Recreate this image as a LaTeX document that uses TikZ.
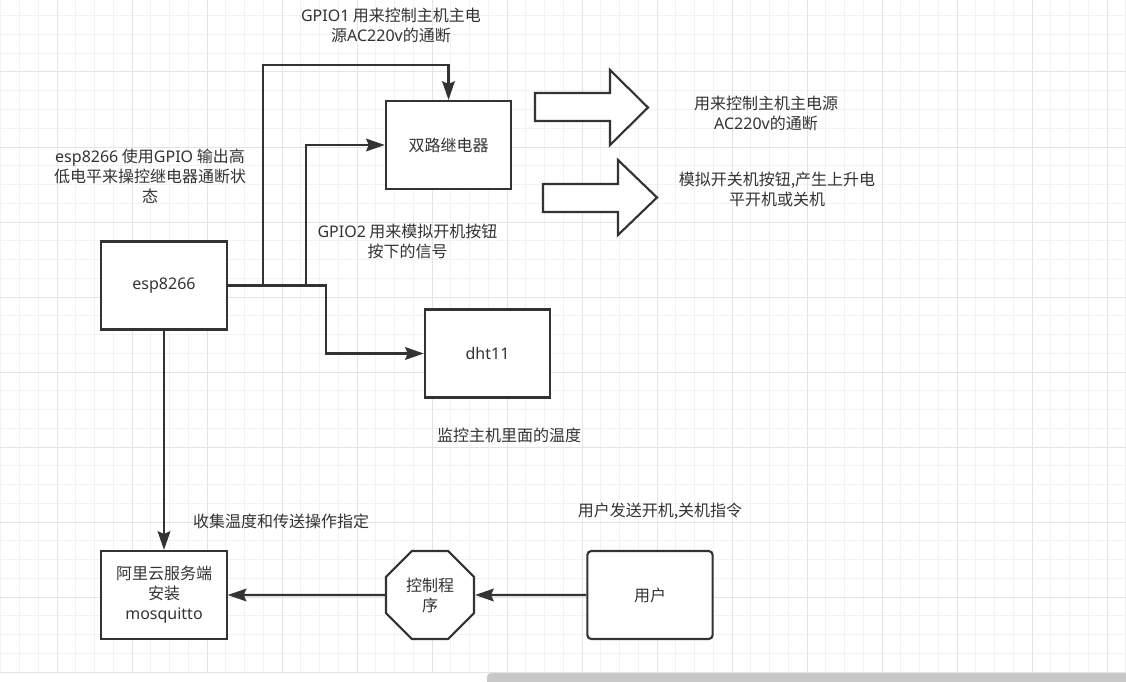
\documentclass[tikz,border=0pt]{standalone}
\usepackage{fontspec}
\setmainfont{Noto Sans CJK SC}
\newfontfamily\lat{Noto Sans}
\usetikzlibrary{arrows.meta,shapes.geometric,positioning}
\usepackage{xcolor}
\definecolor{linec}{HTML}{333333}
\definecolor{txtc}{HTML}{333333}
\definecolor{gridminor}{HTML}{F2F2F2}
\definecolor{gridmajor}{HTML}{E4E4E4}
\definecolor{scrollc}{HTML}{C8C8C8}

\begin{document}
\begin{tikzpicture}[
  x=0.75pt, y=-0.75pt,
  box/.style={rectangle, draw=linec, line width=1.6pt, fill=white, minimum width=94pt, minimum height=66pt, align=center, text=txtc, font=\fontsize{12}{15}\selectfont},
  octa/.style={regular polygon, regular polygon sides=8, draw=linec, line width=1.6pt, fill=white, minimum size=71.4pt, inner sep=0pt, align=center, text=txtc, font=\fontsize{12}{15}\selectfont},
  note/.style={align=center, text=txtc, inner sep=0pt, font=\fontsize{12}{15}\selectfont},
  wire/.style={draw=linec, line width=1.6pt},
  bigarrow/.style={draw=linec, line width=1.6pt, fill=white},
  >={Stealth[length=14pt,width=9.5pt,inset=2pt]}
]
\useasboundingbox[fill=white] (0,0) rectangle (1126,681);

% grid
\foreach \k in {0,...,60} \draw[gridminor, line width=0.75pt] (0.75+18.75*\k,0) -- (0.75+18.75*\k,673);
\foreach \k in {0,...,35} \draw[gridminor, line width=0.75pt] (0,15.75+18.75*\k) -- (1126,15.75+18.75*\k);
\foreach \k in {0,...,14} \draw[gridmajor, line width=0.75pt] (57+75*\k,0) -- (57+75*\k,673);
\foreach \k in {0,...,8} \draw[gridmajor, line width=0.75pt] (0,72+75*\k) -- (1126,72+75*\k);

\node[box] (relay) at (448.5,145) {双路继电器};
\node[box] (esp) at (164,285.5) {\lat esp8266};
\node[box] (dht) at (487.5,353.5) {\lat dht11};
\node[box] (srv) at (164,595) {阿里云服务端\\安装\\{\lat mosquitto}};
\node[octa] (ctrl) at (430,595) {控制程\\序};
\node[box, rounded corners=3pt] (user) at (650,595) {用户};

% hollow arrows on the right
\draw[bigarrow] (535,93) -- (610,93) -- (610,70) -- (648,107.5) -- (610,145) -- (610,121) -- (535,121) -- cycle;
\draw[bigarrow] (543,184) -- (618,184) -- (618,160) -- (657,197.5) -- (618,235) -- (618,212) -- (543,212) -- cycle;

\node[note] (gpio1) at (391,25) {{\lat GPIO1} 用来控制主机主电\\源{\lat AC220v}的通断};
\node[note] (espnote) at (150,176) {{\lat esp8266} 使用{\lat GPIO} 输出高\\低电平来操控继电器通断状\\态};
\node[note] (gpio2) at (407.5,241) {{\lat GPIO2} 用来模拟开机按钮\\按下的信号};
\node[note] (power) at (766,113) {用来控制主机主电源\\{\lat AC220v}的通断};
\node[note] (button) at (777,189) {模拟开关机按钮,产生上升电\\平开机或关机};
\node[note] (temp) at (509,435) {监控主机里面的温度};
\node[note] (collect) at (281,521) {收集温度和传送操作指定};
\node[note] (cmd) at (660,511) {用户发送开机,关机指令};

\draw[wire,->] (esp.east) -| (263,65) -| (relay.north);
\draw[wire,->] (esp.east) -| (306,145) -- (relay.west);
\draw[wire,->] (esp.east) -| (326,353.5) -- (dht.west);
\draw[wire,->] (esp.south) -- (srv.north);
\draw[wire,->] (ctrl) -- (srv);
\draw[wire,->] (user) -- (ctrl);

\fill[scrollc, rounded corners=3pt] (487,673) rectangle (1135,690);
\end{tikzpicture}
\end{document}
